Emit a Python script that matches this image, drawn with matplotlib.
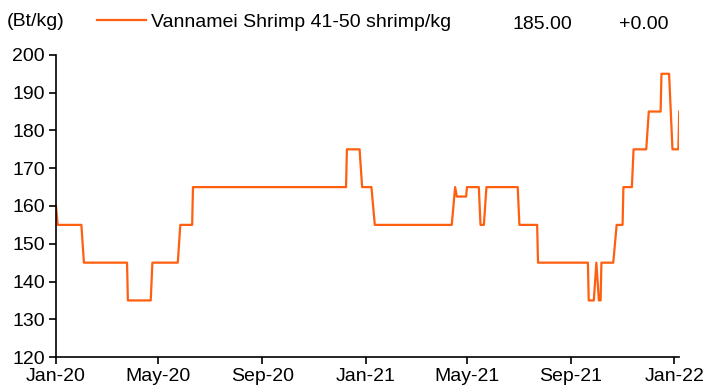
import matplotlib
matplotlib.use("Agg")
import matplotlib.pyplot as plt
import matplotlib.dates as mdates
import numpy as np

plt.rcParams["font.family"] = ["Liberation Sans", "DejaVu Sans"]

# weekly price points, each level change kept as end-of-level / start-of-level pair
dates = [
    "2020-01-01", "2020-01-03", "2020-01-31", "2020-02-03", "2020-03-25", "2020-03-26",
    "2020-04-22", "2020-04-24", "2020-05-24", "2020-05-27", "2020-06-10", "2020-06-11",
    "2020-12-09", "2020-12-10", "2020-12-25", "2020-12-28", "2021-01-08", "2021-01-12",
    "2021-04-13", "2021-04-17", "2021-04-19", "2021-04-30", "2021-05-01", "2021-05-15",
    "2021-05-17", "2021-05-21", "2021-05-24", "2021-06-30", "2021-07-02", "2021-07-23",
    "2021-07-24", "2021-09-21", "2021-09-22", "2021-09-28", "2021-10-01", "2021-10-04",
    "2021-10-06", "2021-10-07", "2021-10-21", "2021-10-25", "2021-11-01", "2021-11-02",
    "2021-11-12", "2021-11-14", "2021-11-29", "2021-12-02", "2021-12-16", "2021-12-17",
    "2021-12-26", "2021-12-30", "2022-01-06", "2022-01-07",
]
price = [
    160, 155, 155, 145, 145, 135,
    135, 145, 145, 155, 155, 165,
    165, 175, 175, 165, 165, 155,
    155, 165, 162.5, 162.5, 165, 165,
    155, 155, 165, 165, 155, 155,
    145, 145, 135, 135, 145, 135,
    135, 145, 145, 155, 155, 165,
    165, 175, 175, 185, 185, 195,
    195, 175, 175, 185,
]
series_name = "Vannamei Shrimp 41-50 shrimp/kg"
last_value = "185.00"
change = "+0.00"

x = np.array(dates, dtype="datetime64[D]")

fig = plt.figure(figsize=(7.18, 3.92), dpi=100)
ax = fig.add_axes([0.078, 0.089, 0.868, 0.771])
line, = ax.plot(x, price, color="#FF5F0F", lw=1.6)

ax.set_ylim(120, 200)
ax.set_yticks(np.arange(120, 201, 10))
ax.set_xlim(np.datetime64("2020-01-01"), np.datetime64("2022-01-07"))
ax.xaxis.set_major_locator(mdates.MonthLocator(bymonth=[1, 5, 9]))
ax.xaxis.set_major_formatter(mdates.DateFormatter("%b-%y"))

for s in ["top", "right"]:
    ax.spines[s].set_visible(False)
for s in ["left", "bottom"]:
    ax.spines[s].set_linewidth(1.2)
ax.tick_params(labelsize=14, length=5, width=1.2, pad=3)

fig.text(0.01, 0.944, "(Bt/kg)", fontsize=14, va="center")
ax.legend([line], [series_name], loc="center left", bbox_to_anchor=(0.135, 0.944),
          bbox_transform=fig.transFigure, frameon=False, fontsize=14,
          handlelength=2.5, handletextpad=0.3, borderpad=0, borderaxespad=0)
fig.text(0.714, 0.937, last_value, fontsize=14, va="center")
fig.text(0.862, 0.937, change, fontsize=14, va="center")

fig.savefig("out.png", dpi=100)
